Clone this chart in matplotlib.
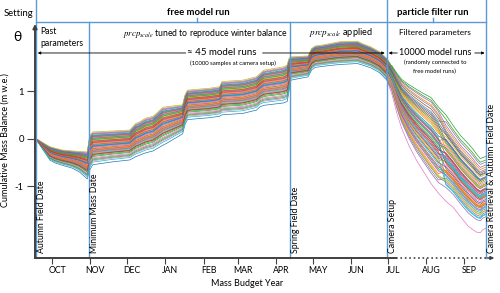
import numpy as np
import matplotlib
matplotlib.use("Agg")
from matplotlib import pyplot as plt
from matplotlib import font_manager
from matplotlib.transforms import ScaledTranslation

# narrow sans looks closest to the Calibri of the original
names = set(f.name for f in font_manager.fontManager.ttflist)
font = 'Liberation Sans Narrow' if 'Liberation Sans Narrow' in names else 'Lato'
plt.rcParams['font.family'] = [font, 'DejaVu Sans']
plt.rcParams['mathtext.fontset'] = 'stix'

# x axis = days since 1 Oct of the mass budget year
months = ['OCT', 'NOV', 'DEC', 'JAN', 'FEB', 'MAR', 'APR', 'MAY', 'JUN', 'JUL', 'AUG', 'SEP']
month_start = [0, 31, 61, 92, 123, 151, 182, 212, 243, 273, 304, 335]

event_names = ['Autumn Field Date', 'Minimum Mass Date', 'Spring Field Date',
               'Camera Setup', 'Camera Retrieval & Autumn Field Date']
event_days = [-13.5, 29.5, 193, 272, 352.5]

# free model run: envelope of the ~45 runs (m w.e.)
free_days = [-13.5, -2, 2, 8, 16, 22, 28.5, 30.5, 33, 49, 63, 68, 71, 76, 82, 86, 90, 93,
             106, 108, 110, 128, 136, 138, 155, 166, 169, 172, 188, 191, 192.5, 194,
             208, 211, 214, 220, 226, 234, 248, 252, 259, 266, 272]
free_upper = [0, -0.17, -0.20, -0.24, -0.26, -0.27, -0.28, 0.07, 0.14, 0.16, 0.18, 0.32, 0.35,
              0.43, 0.47, 0.56, 0.66, 0.67, 0.71, 0.92, 1.02, 1.06, 1.09, 1.20, 1.23, 1.30,
              1.37, 1.44, 1.51, 1.55, 1.69, 1.72, 1.74, 1.90, 1.95, 1.97, 2.00, 2.04, 2.05,
              2.00, 1.93, 1.83, 1.69]
free_lower = [0, -0.45, -0.51, -0.56, -0.62, -0.70, -0.85, -0.66, -0.55, -0.49, -0.45, -0.38,
              -0.35, -0.30, -0.26, -0.20, -0.14, -0.10, 0.10, 0.30, 0.40, 0.44, 0.47, 0.50,
              0.53, 0.60, 0.67, 0.70, 0.75, 0.78, 1.00, 1.23, 1.30, 1.45, 1.50, 1.52, 1.54,
              1.56, 1.58, 1.55, 1.49, 1.39, 1.23]
# position of each run inside the envelope
free_frac = [0.00, 0.52, 0.88, 0.31, 0.66, 0.45, 0.97, 0.18, 0.74, 0.58,
             0.40, 0.83, 0.25, 0.62, 0.93, 0.49, 0.12, 0.70, 0.36, 0.79,
             0.55, 0.64, 0.28, 0.68, 0.43, 0.86, 0.21, 0.60, 0.76, 0.34,
             0.90, 0.47, 0.15, 0.72, 0.38, 0.81, 0.53, 0.95, 1.00, 0.08,
             0.57, 0.42, 0.77, 0.32, 0.85]

# particle filter run: envelope after camera setup
pf_days = [272, 276, 280, 284, 290, 296, 302, 308, 314, 320, 326, 332, 338, 342, 345, 348, 350, 353]
pf_upper = [1.69, 1.55, 1.40, 1.27, 1.16, 1.07, 0.98, 0.90, 0.70, 0.50, 0.27, 0.06, -0.10,
            -0.22, -0.33, -0.42, -0.40, -0.37]
pf_lower = [1.23, 0.95, 0.55, 0.22, -0.15, -0.45, -0.70, -0.95, -1.15, -1.32, -1.45, -1.65,
            -1.84, -1.92, -1.97, -1.98, -1.92, -1.88]
pf_phase = [0, 1, 1, 1, 1, 1, 1, 1, 1, 2, 2, 2, 2, 2, 2, 2, 2, 2]
pf_start = [0.35, 0.80, 0.55, 0.10, 0.62, 0.95, 0.00, 0.48, 0.27, 0.71,
            0.15, 0.88, 0.40, 0.58, 0.05, 0.75, 0.33, 0.92, 0.20, 0.66,
            0.44, 0.83, 0.12, 0.52, 0.97, 0.30, 0.68, 0.08, 0.60, 0.38,
            0.86, 0.24, 0.77, 0.46, 0.02, 0.64, 0.18, 0.90, 0.56, 0.42,
            0.73, 0.28, 0.99, 0.50, 0.14, 0.81, 0.36, 0.69, 0.22, 0.59]
pf_mid = [0.50, 0.72, 0.98, 0.30, 0.60, 0.85, 0.00, 0.42, 0.20, 0.40,
          0.35, 0.90, 0.55, 0.47, 0.18, 0.78, 0.25, 0.82, 0.38, 0.63,
          0.52, 0.70, 0.28, 0.45, 0.93, 0.40, 0.58, 0.15, 0.68, 0.33,
          0.80, 0.22, 0.74, 0.49, 0.12, 0.61, 0.30, 0.88, 0.53, 0.44,
          0.65, 0.36, 0.95, 0.57, 0.26, 0.76, 0.41, 0.62, 0.19, 0.56]
pf_end = [0.55, 0.60, 1.00, 0.35, 0.72, 0.80, 0.00, 0.48, 0.25, 0.20,
          0.40, 0.85, 0.62, 0.38, 0.22, 0.70, 0.30, 0.92, 0.45, 0.19,
          0.50, 0.66, 0.33, 0.52, 0.88, 0.46, 0.64, 0.27, 0.75, 0.29,
          0.78, 0.36, 0.68, 0.56, 0.16, 0.54, 0.42, 0.82, 0.61, 0.49,
          0.71, 0.34, 0.95, 0.44, 0.31, 0.77, 0.53, 0.59, 0.24, 0.47]

blue = '#5B9BD5'
gray = '#404040'

fig = plt.figure(figsize=(5, 2.93), dpi=100)
ax = fig.add_axes([0.07, 0.1195, 0.914, 0.8055])
ax.set_xlim(-14, 357.5)
ax.set_ylim(-2.514, 2.455)
for s in ax.spines.values():
    s.set_visible(False)


def ay(ypx):
    # pixel row from top of figure -> axes fraction
    return (258 - ypx) / 236.0


xa = ax.get_xaxis_transform()

fd = np.array(free_days)
fu = np.array(free_upper)
fl = np.array(free_lower)
for i, f in enumerate(free_frac):
    ax.plot(fd, fl + f * (fu - fl), color='C%d' % (i % 10), lw=0.5, zorder=2)

pdays = np.array(pf_days)
pu = np.array(pf_upper)
pl = np.array(pf_lower)
ph = np.array(pf_phase)
for i in range(len(pf_start)):
    fr = np.choose(ph, [pf_start[i], pf_mid[i], pf_end[i]])
    ax.plot(pdays, pl + fr * (pu - pl), color='C%d' % (i % 10), lw=0.5, zorder=2)

# event lines
line_top = [ay(0), 1.0, 1.0, ay(0), ay(0)]
for d, t in zip(event_days, line_top):
    ax.plot([d, d], [0, t], transform=xa, color=blue, lw=1.0, clip_on=False, zorder=4)
ax.plot([event_days[0], event_days[-1]], [1, 1], transform=xa, color=blue, lw=1.0,
        clip_on=False, zorder=4)
for d in [117.6, 309.4]:
    ax.plot([d, d], [1.0, ay(18)], transform=xa, color=blue, lw=1.0, clip_on=False)

off = ScaledTranslation(5.5 / 100, 0, fig.dpi_scale_trans)
for d, name in zip(event_days, event_names):
    ax.text(d, ay(253), name, transform=xa + off, rotation=90, ha='center', va='bottom',
            fontsize=6.3, zorder=5)

# axes with arrows
ax.annotate('', xy=(0, ay(24)), xytext=(0, 0), xycoords='axes fraction',
            arrowprops=dict(arrowstyle='-|>', color=gray, lw=1.4, mutation_scale=6,
                            shrinkA=0, shrinkB=0), zorder=6)
ax.plot([0, 0.79], [0, 0], transform=ax.transAxes, color=gray, lw=1.4, clip_on=False, zorder=6)
ax.plot([0.79, 0.995], [0, 0], transform=ax.transAxes, color=gray, lw=1.2, ls=':',
        clip_on=False, zorder=6)
ax.annotate('', xy=(1.005, 0), xytext=(0.99, 0), xycoords='axes fraction',
            arrowprops=dict(arrowstyle='-|>', color=gray, lw=1.0, mutation_scale=5,
                            shrinkA=0, shrinkB=0), zorder=6)

ax.set_yticks([-1, 0, 1])
ax.set_yticklabels(['-1', '0', '1'])
ax.set_xticks(month_start)
ax.set_xticklabels(months)
ax.tick_params(axis='y', direction='out', length=5.5, width=0.8, color=gray, pad=2.5,
               labelsize=6.8)
ax.tick_params(axis='x', direction='out', length=4, width=0.8, color=gray, pad=2,
               labelsize=6.3)
for lab in ax.get_xticklabels():
    lab.set_transform(lab.get_transform() + ScaledTranslation(5 / 100, 0, fig.dpi_scale_trans))

ax.set_ylabel('Cumulative Mass Balance (m w.e.)', fontsize=6.5)
ax.yaxis.set_label_coords(-0.055, 0.5)
fig.text(247 / 500, 1 - 283 / 293, 'Mass Budget Year', ha='center', va='center', fontsize=6.5)

# header
fig.text(18 / 500, 1 - 14 / 293, 'Setting', ha='center', va='center', fontsize=6.8)
fig.text(17 / 500, 1 - 37 / 293, 'θ', ha='center', va='center', fontsize=10)
ax.text(118.6, ay(13), 'free model run', transform=xa, ha='center', va='center',
        fontsize=6.8, fontweight='bold')
ax.text(309.5, ay(13), 'particle filter run', transform=xa, ha='center', va='center',
        fontsize=6.8, fontweight='bold')
ax.text(-10, ay(37.5), 'Past\nparameters', transform=xa, ha='left', va='center',
        fontsize=6.2, linespacing=1.3)
ax.text(124, ay(34), r'$prcp_{scale}$ tuned to reproduce winter balance', transform=xa,
        ha='center', va='center', fontsize=6.2)
ax.text(234.7, ay(33), r'$prcp_{scale}$ applied', transform=xa, ha='center', va='center',
        fontsize=6.6)
ax.text(311, ay(33), 'Filtered parameters', transform=xa, ha='center', va='center',
        fontsize=6)

# run count arrows
arr = dict(arrowstyle='-|>', color='black', lw=0.6, mutation_scale=4, shrinkA=0, shrinkB=0)
ax.text(137.6, ay(53), '≈ 45 model runs', transform=xa, ha='center', va='center',
        fontsize=7, zorder=6)
ax.text(147, ay(63.5), '(10000 samples at camera setup)', transform=xa, ha='center',
        va='center', fontsize=4.3, zorder=6)
ax.annotate('', xy=(-11.8, ay(53)), xytext=(108.5, ay(53)), xycoords=xa, arrowprops=arr,
            zorder=6)
ax.annotate('', xy=(270.3, ay(53)), xytext=(171, ay(53)), xycoords=xa, arrowprops=arr,
            zorder=6)
ax.text(311.5, ay(53), '10000 model runs', transform=xa, ha='center', va='center',
        fontsize=6.5, zorder=6)
ax.text(311, ay(62.5), '(randomly connected to', transform=xa, ha='center', va='center',
        fontsize=4.3, zorder=6)
ax.text(311, ay(71), 'free model runs)', transform=xa, ha='center', va='center',
        fontsize=4.3, zorder=6)
ax.annotate('', xy=(273.5, ay(53)), xytext=(280.5, ay(53)), xycoords=xa, arrowprops=arr,
            zorder=6)
ax.annotate('', xy=(351.5, ay(53)), xytext=(343.5, ay(53)), xycoords=xa, arrowprops=arr,
            zorder=6)

fig.savefig('out.png', dpi=100)
